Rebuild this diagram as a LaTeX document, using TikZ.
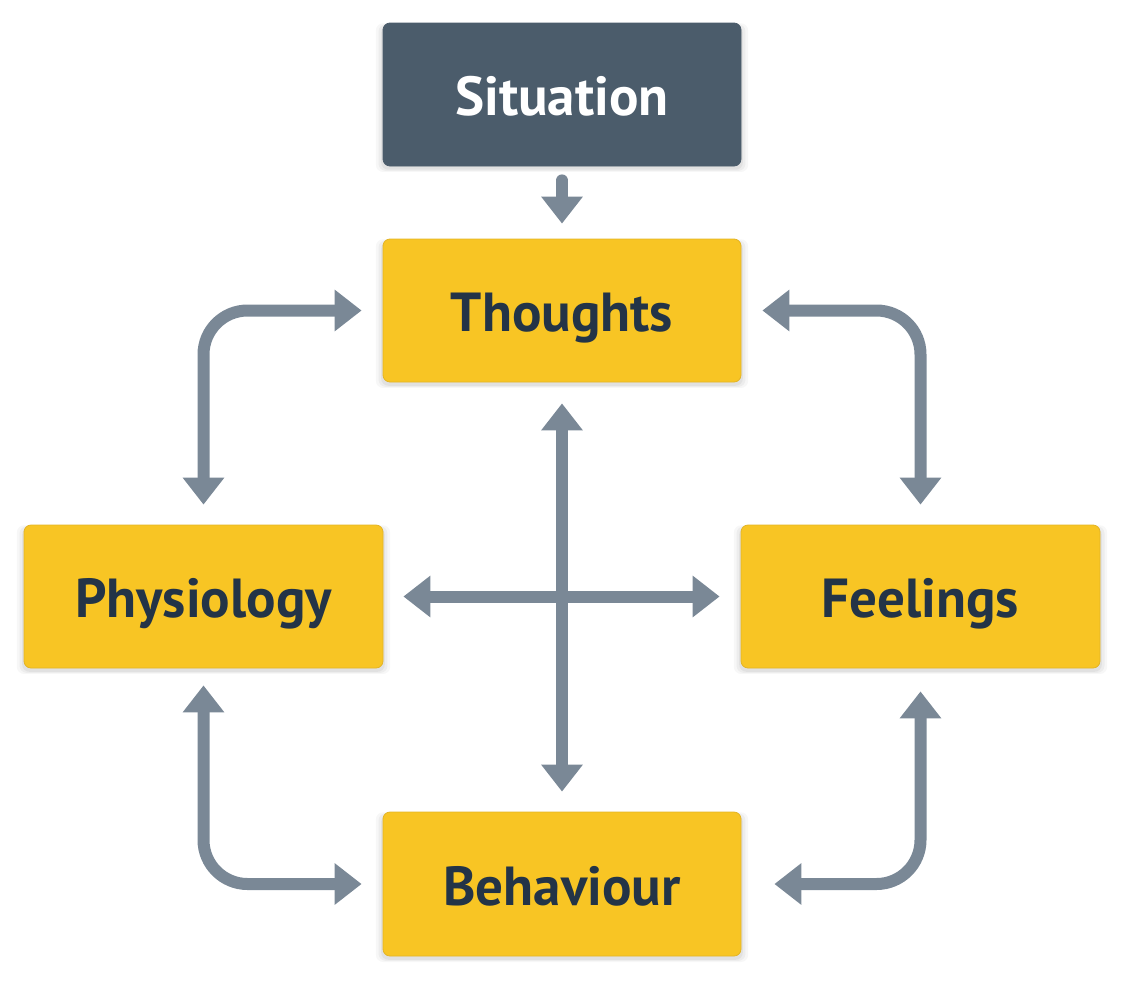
\documentclass[tikz,border=0pt]{standalone}
\usepackage{fontspec}
\setmainfont{PT Sans}
\usetikzlibrary{arrows.meta,shadows}
\definecolor{boxyellow}{HTML}{F8C524}
\definecolor{boxedge}{HTML}{E3B425}
\definecolor{sitfill}{HTML}{4B5C6B}
\definecolor{txtdark}{HTML}{233447}
\definecolor{arrowgray}{HTML}{7A8896}
\begin{document}
\begin{tikzpicture}[x=1pt,y=-1pt,
  softshadow/.style={
    general shadow={shadow xshift=0pt, shadow yshift=-3pt, shadow scale=1.04, opacity=0.03, fill=black},
    general shadow={shadow xshift=0pt, shadow yshift=-3pt, shadow scale=1.025, opacity=0.04, fill=black},
    general shadow={shadow xshift=0pt, shadow yshift=-3pt, shadow scale=1.01, opacity=0.05, fill=black}},
  box/.style={draw=boxedge, line width=0.8pt, fill=boxyellow, rounded corners=7pt,
    minimum width=358pt, minimum height=143pt, inner sep=0pt,
    text height=42pt, text depth=0pt,
    font=\fontsize{55}{62}\selectfont\bfseries, text=txtdark, softshadow},
  sitbox/.style={box, draw=sitfill, fill=sitfill, text=white},
  conn/.style={draw=arrowgray, line width=12pt, line cap=round,
    {Triangle[width=40pt,length=27pt]}-{Triangle[width=40pt,length=27pt]}},
  oneway/.style={draw=arrowgray, line width=12pt, line cap=round,
    -{Triangle[width=40pt,length=27pt]}}
]
\useasboundingbox (0,0) rectangle (1124,980);
\node[sitbox] (sit) at (562,94.5) {Situation};
\node[box] (tho) at (562,310.5) {Thoughts};
\node[box, minimum width=359pt] (phy) at (203.5,596.5) {Physiology};
\node[box, minimum width=359pt] (fee) at (920.5,596.5) {Feelings};
\node[box, minimum height=144pt] (beh) at (562,884) {Behaviour};

\draw[oneway, shorten <=14pt, shorten >=15pt] (sit.south) -- (tho.north);
\draw[conn, rounded corners=44pt, shorten <=21pt, shorten >=20pt] (tho.west) -| (phy.north);
\draw[conn, rounded corners=44pt, shorten <=21pt, shorten >=20pt] (tho.east) -| (fee.north);
\draw[conn, rounded corners=44pt, shorten <=17pt, shorten >=21pt] (phy.south) |- (beh.west);
\draw[conn, rounded corners=44pt, shorten <=23pt, shorten >=33pt] (fee.south) |- (beh.east);
\draw[conn, shorten <=21pt, shorten >=20pt] (tho.south) -- (beh.north);
\draw[conn, shorten <=20pt, shorten >=21pt] (phy.east) -- (fee.west);
\end{tikzpicture}
\end{document}
